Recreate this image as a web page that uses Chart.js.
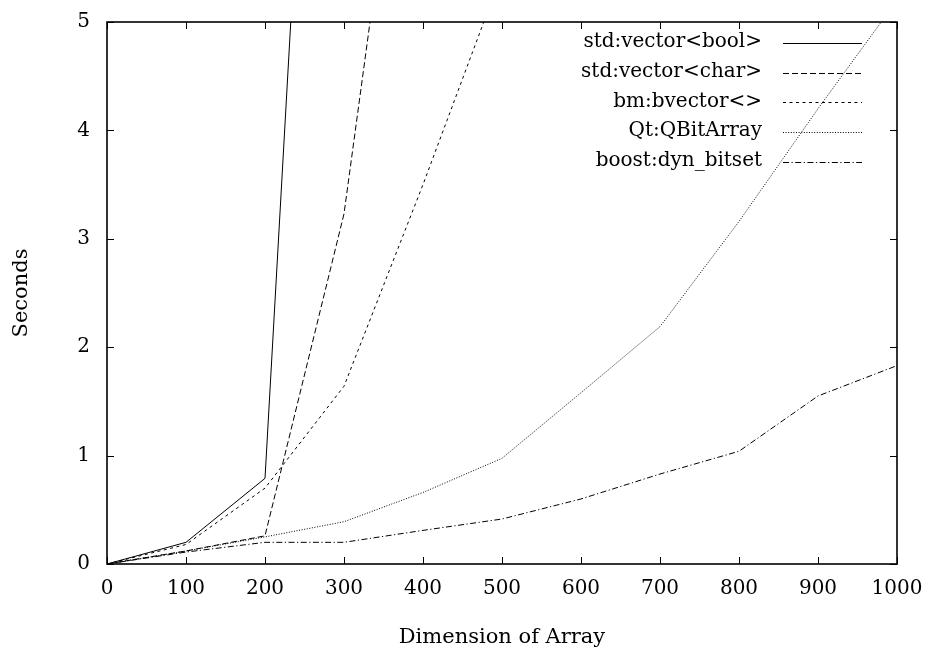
<!DOCTYPE html>
<html>
<head>
<meta charset="utf-8">
<script src="https://cdn.jsdelivr.net/npm/chart.js@4.4.1/dist/chart.umd.min.js"></script>
<style>
  html, body { margin: 0; padding: 0; background: #fff; }
  #wrap { width: 929px; height: 653px; }
</style>
</head>
<body>
<div id="wrap"><canvas id="chart" width="929" height="653"></canvas></div>
<script>
// Datos (segundos por dimensión del array)
const sizes = [0, 100, 200, 300, 400, 500, 600, 700, 800, 900, 1000];
const vecBool = [0, 0.20, 0.79, 13.7];
const vecChar = [0, 0.12, 0.26, 3.23, 8.6];
const bvector = [0, 0.18, 0.70, 1.64, 3.5, 5.45];
const qbitArray = [0, 0.12, 0.25, 0.39, 0.66, 0.975, 1.58, 2.19, 3.16, 4.2, 5.2];
const dynBitset = [0, 0.11, 0.20, 0.20, 0.31, 0.415, 0.60, 0.83, 1.04, 1.55, 1.83];

const seriesNames = ['std:vector<bool>', 'std:vector<char>', 'bm:bvector<>', 'Qt:QBitArray', 'boost:dyn_bitset'];
const seriesValues = [vecBool, vecChar, bvector, qbitArray, dynBitset];
const dashes = [[], [6, 3], [3, 3.5], [1, 1.6], [6, 2.5, 1.2, 2.5]];

const xTicks = [0, 100, 200, 300, 400, 500, 600, 700, 800, 900, 1000];
const yTicks = [0, 1, 2, 3, 4, 5];

const font = 'DejaVu Serif';

// marco, marcas hacia adentro y leyenda estilo gnuplot
const frame = {
    id: 'frame',
    afterDatasetsDraw(chart) {
        const { ctx, chartArea: a, scales } = chart;
        ctx.save();
        ctx.strokeStyle = '#000';
        ctx.lineWidth = 1;
        ctx.setLineDash([]);
        xTicks.forEach(v => {
            const x = Math.round(scales.x.getPixelForValue(v)) + 0.5;
            ctx.beginPath();
            ctx.moveTo(x, a.bottom); ctx.lineTo(x, a.bottom - 7);
            ctx.moveTo(x, a.top); ctx.lineTo(x, a.top + 7);
            ctx.stroke();
        });
        yTicks.forEach(v => {
            const y = Math.round(scales.y.getPixelForValue(v)) + 0.5;
            ctx.beginPath();
            ctx.moveTo(a.left, y); ctx.lineTo(a.left + 7, y);
            ctx.moveTo(a.right, y); ctx.lineTo(a.right - 7, y);
            ctx.stroke();
        });
        ctx.lineWidth = 1.6;
        ctx.strokeRect(a.left, a.top, a.right - a.left, a.bottom - a.top);

        // leyenda
        ctx.font = '20px "' + font + '"';
        ctx.fillStyle = '#000';
        ctx.textAlign = 'right';
        ctx.textBaseline = 'middle';
        chart.data.datasets.forEach((ds, i) => {
            const y = a.top + 21 + i * 29.7;
            ctx.fillText(ds.label, a.right - 135, y - 1);
            ctx.lineWidth = 1;
            ctx.setLineDash(ds.borderDash);
            ctx.beginPath();
            ctx.moveTo(a.right - 114, Math.round(y) + 0.5);
            ctx.lineTo(a.right - 35, Math.round(y) + 0.5);
            ctx.stroke();
            ctx.setLineDash([]);
        });
        ctx.restore();
    }
};

const ctx = document.getElementById('chart').getContext('2d');
const myChart = new Chart(ctx, {
    type: 'line',
    data: {
        datasets: seriesNames.map((name, i) => ({
            label: name,
            data: seriesValues[i].map((v, j) => ({ x: sizes[j], y: v })),
            borderColor: '#000',
            borderWidth: 1,
            borderDash: dashes[i],
            pointRadius: 0,
            tension: 0,
            fill: false
        }))
    },
    options: {
        responsive: false,
        animation: false,
        layout: { padding: { top: 22, right: 32, left: 0, bottom: 0 } },
        plugins: {
            legend: { display: false },
            tooltip: { enabled: false }
        },
        scales: {
            x: {
                type: 'linear',
                min: 0,
                max: 1000,
                afterFit: s => { s.height = 89; s.paddingRight = 0; s.paddingLeft = 0; },
                afterBuildTicks: s => { s.ticks = xTicks.map(v => ({ value: v })); },
                grid: { display: false, drawTicks: false },
                border: { display: false },
                ticks: {
                    color: '#000', padding: 13, maxRotation: 0,
                    font: { family: font, size: 20 },
                    callback: v => String(v)
                },
                title: {
                    display: true,
                    text: 'Dimension of Array',
                    color: '#000',
                    padding: { top: 0, bottom: 3 },
                    font: { family: font, size: 21 }
                }
            },
            y: {
                min: 0,
                max: 5,
                afterFit: s => { s.width = 107; s.paddingTop = 0; s.paddingBottom = 0; },
                afterBuildTicks: s => { s.ticks = yTicks.map(v => ({ value: v })); },
                grid: { display: false, drawTicks: false },
                border: { display: false },
                ticks: { color: '#000', padding: 17, font: { family: font, size: 20 } },
                title: {
                    display: true,
                    text: 'Seconds',
                    color: '#000',
                    padding: { top: 9, bottom: 0 },
                    font: { family: font, size: 21 }
                }
            }
        }
    },
    plugins: [frame]
});
</script>
</body>
</html>
